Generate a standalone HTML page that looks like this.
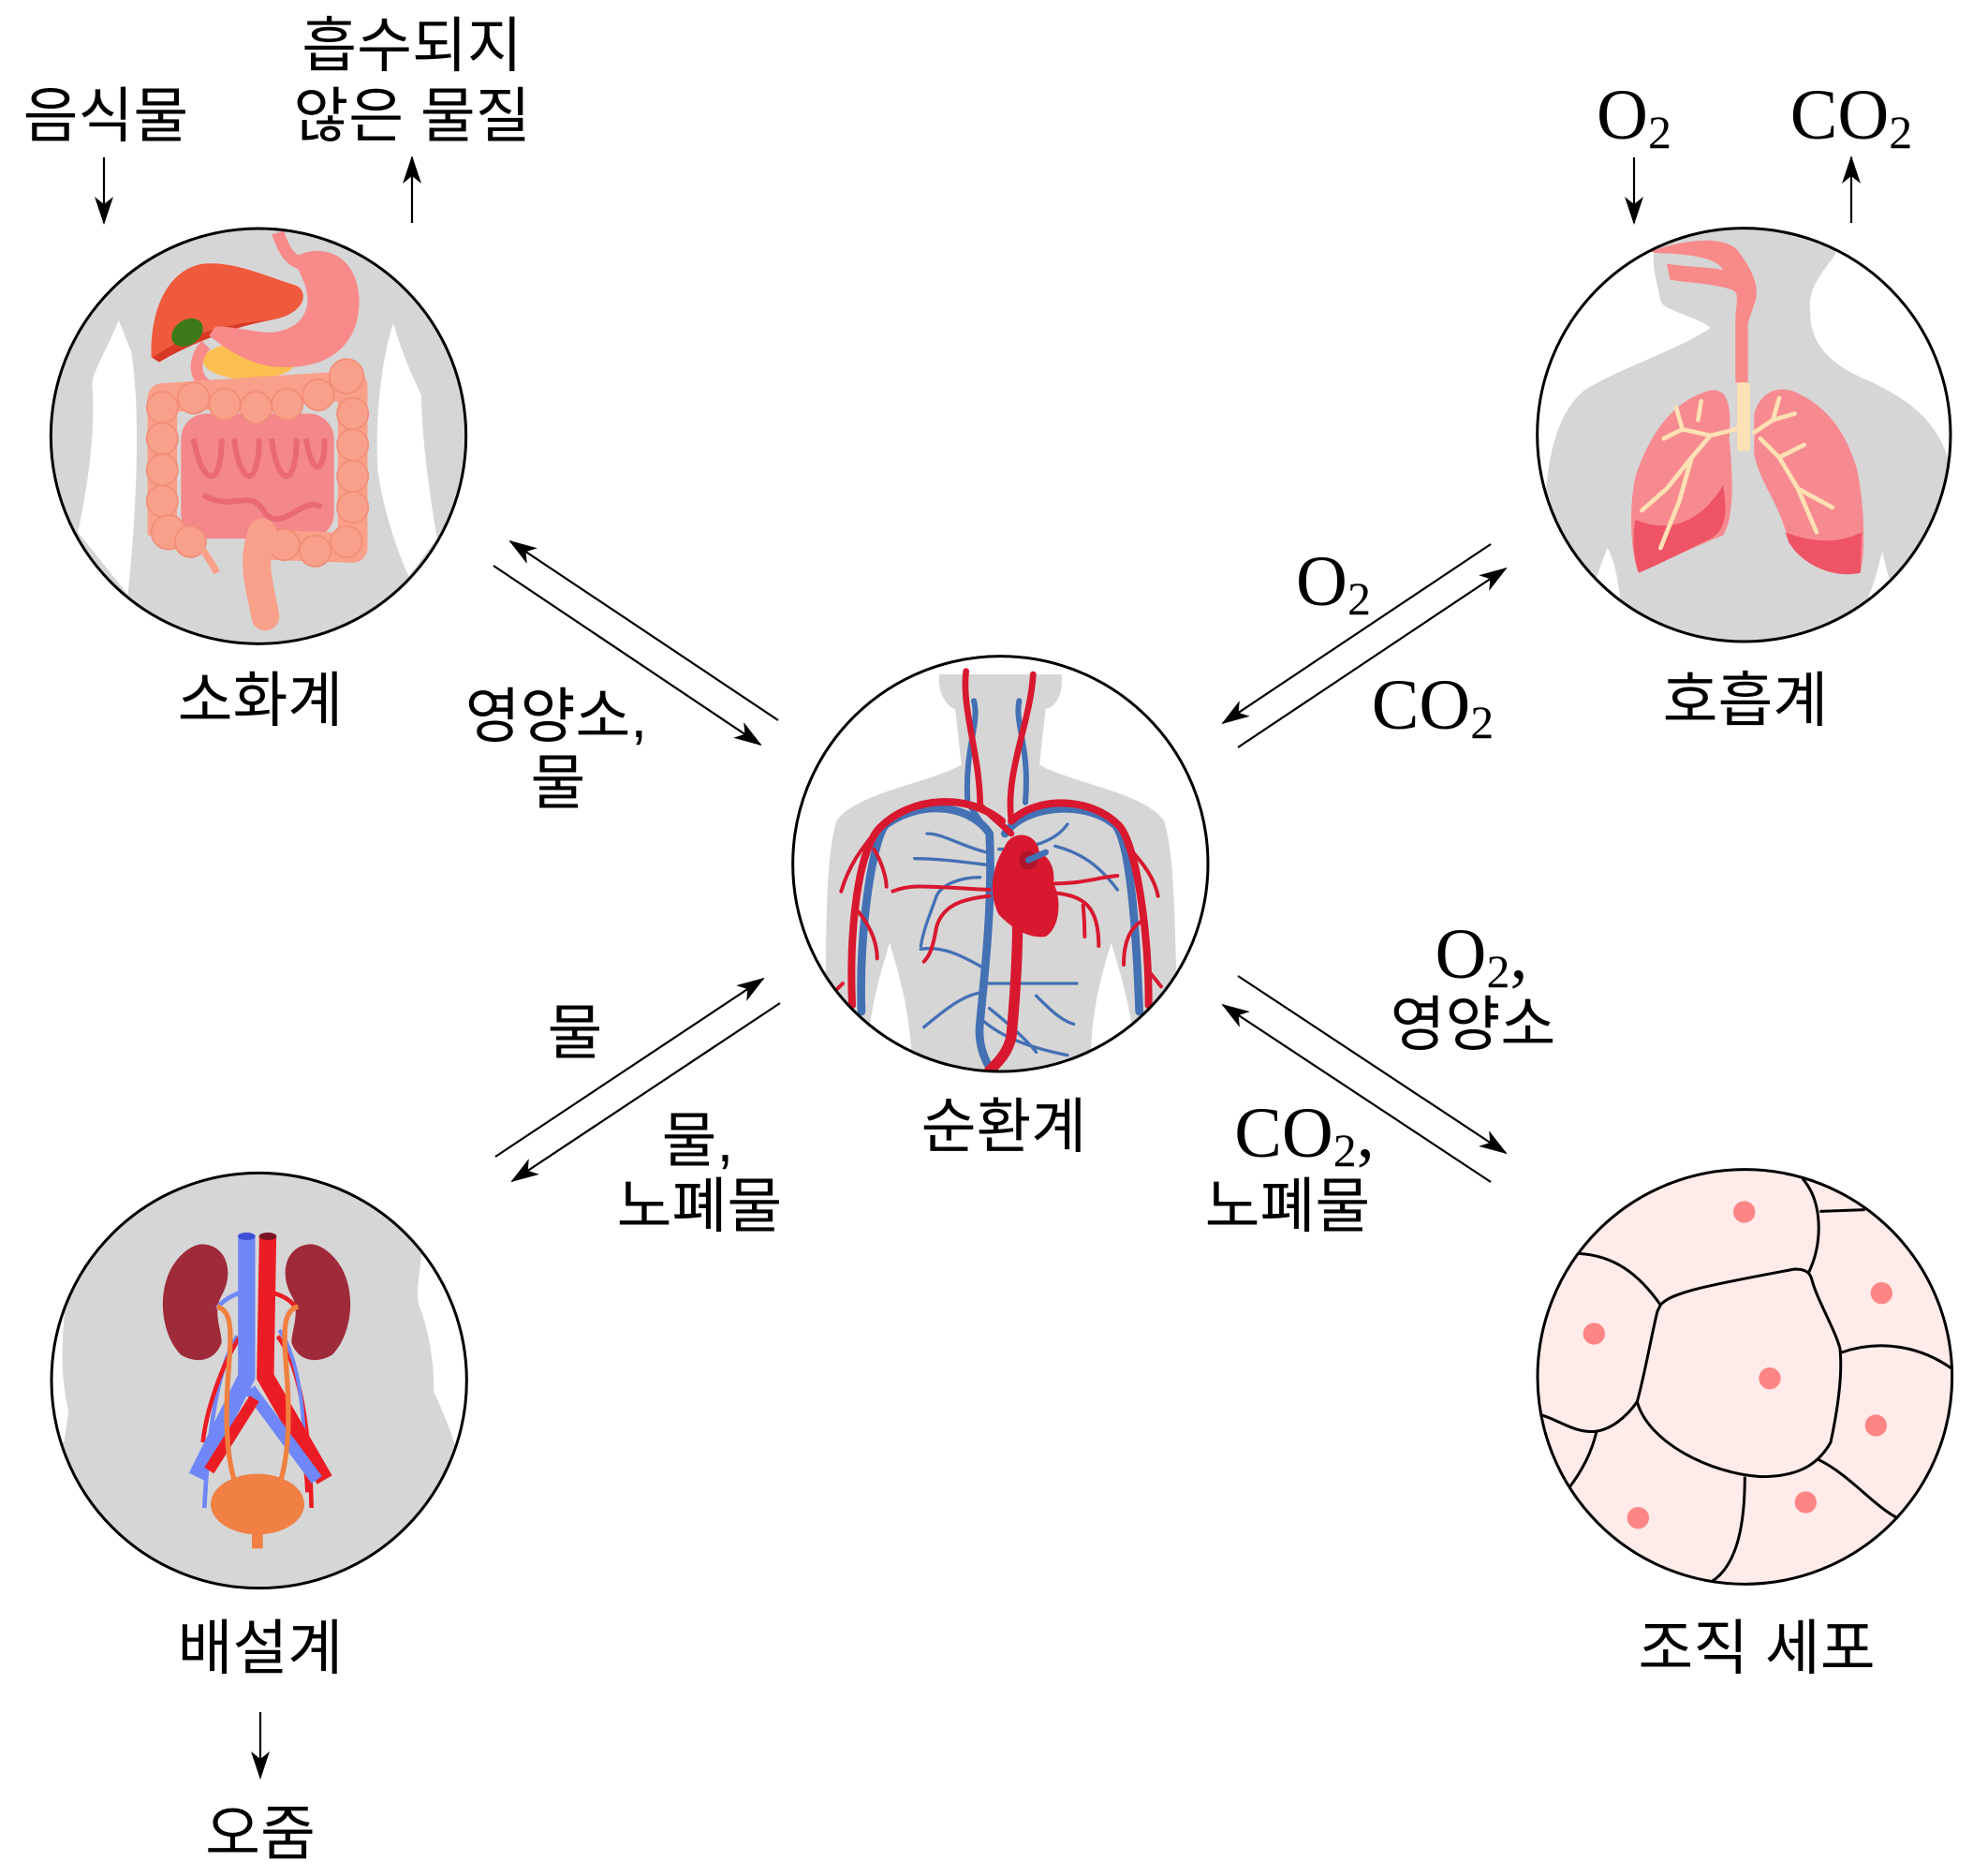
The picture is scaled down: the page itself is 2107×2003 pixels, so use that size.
<!DOCTYPE html>
<html><head><meta charset="utf-8"><style>
html,body{margin:0;padding:0;background:#fff}
svg{display:block}
.k{font-family:"Liberation Sans","Noto Sans CJK KR",sans-serif;font-size:64px;fill:#000}
.s{font-family:"Liberation Serif",serif;font-size:76px;fill:#000}
.sub{font-size:50px}
</style></head><body>
<svg width="2107" height="2003" viewBox="0 0 2107 2003" xmlns="http://www.w3.org/2000/svg">
<defs>
<marker id="ah" viewBox="0 0 30 20" refX="28" refY="10" markerWidth="30" markerHeight="20" markerUnits="userSpaceOnUse" orient="auto">
<path d="M0,0 L30,10 L0,20 L8,10 Z" fill="#000"/>
</marker>
<clipPath id="c1"><circle cx="678" cy="692" r="665"/></clipPath>
<clipPath id="c2"><circle cx="667" cy="688" r="660"/></clipPath>
<clipPath id="c3"><circle cx="685" cy="697" r="665"/></clipPath>
<clipPath id="c4"><circle cx="680" cy="702" r="663"/></clipPath>
<clipPath id="c5"><circle cx="670" cy="690" r="662"/></clipPath>
</defs>

<!-- Digestive -->
<g transform="translate(50,235) scale(0.33333)">
<g clip-path="url(#c1)">
<rect x="0" y="0" width="1400" height="1400" fill="#d6d6d6"/>
<path d="M230,320 C200,400 150,480 145,520 C160,700 120,900 100,1000 L260,1200 C290,900 300,600 270,420 Z" fill="#fff"/>
<path d="M1110,330 C1080,420 1050,600 1060,800 C1080,950 1140,1100 1160,1140 L1250,1020 C1230,900 1200,700 1200,560 C1160,480 1130,400 1110,330 Z" fill="#fff"/>
<path d="M335,440 C330,300 380,160 500,140 C600,130 700,180 800,210 C840,230 830,300 720,320 C600,340 450,400 360,455 Z" fill="#f05a3c"/>
<path d="M340,440 C420,380 560,330 720,320 C600,340 450,400 360,455 Z" fill="#d83826"/>
<ellipse cx="450" cy="360" rx="55" ry="40" transform="rotate(-35 450 360)" fill="#3f7a1a"/>
<ellipse cx="650" cy="450" rx="150" ry="60" fill="#fbbf50"/>
<path d="M790,120 C900,60 1010,130 1000,280 C990,420 880,480 740,470 C640,465 560,400 520,370 L540,340 C600,340 660,360 720,360 C820,350 860,280 820,190 Z" fill="#f88a8a"/>
<path d="M740,40 C760,100 780,130 820,140" stroke="#f88a8a" stroke-width="40" fill="none"/>
<path d="M510,400 C460,450 470,540 560,540 C650,520 760,500 790,560" stroke="#f88a8a" stroke-width="38" fill="none"/>
<rect x="430" y="620" width="490" height="400" rx="80" fill="#f4878a"/>
<path d="M470,700 C500,860 560,860 560,700 M600,700 C620,860 680,860 680,700 M720,700 C740,860 800,860 800,700 M830,700 C850,820 890,820 890,700 M500,880 C600,940 650,850 700,940 C760,1000 820,880 880,920" stroke="#e96a72" stroke-width="18" fill="none"/>
<path d="M370,1010 L370,570 L980,530 L980,1050 L700,1040" stroke="#f9a08a" stroke-width="95" fill="none" stroke-linejoin="round"/>
<g fill="#f9a08a" stroke="#f28c78" stroke-width="5">
<circle cx="370" cy="600" r="50"/><circle cx="370" cy="700" r="50"/><circle cx="370" cy="800" r="50"/><circle cx="370" cy="900" r="50"/><circle cx="390" cy="1000" r="55"/><circle cx="460" cy="1030" r="50"/>
<circle cx="470" cy="570" r="50"/><circle cx="570" cy="590" r="50"/><circle cx="670" cy="600" r="50"/><circle cx="770" cy="590" r="50"/><circle cx="870" cy="560" r="50"/><circle cx="960" cy="500" r="55"/>
<circle cx="980" cy="620" r="50"/><circle cx="980" cy="720" r="50"/><circle cx="980" cy="820" r="50"/><circle cx="980" cy="920" r="50"/><circle cx="960" cy="1030" r="50"/><circle cx="860" cy="1060" r="50"/><circle cx="760" cy="1040" r="50"/>
</g>
<path d="M690,1000 C650,1100 690,1200 700,1270" stroke="#f9a08a" stroke-width="90" fill="none" stroke-linecap="round"/>
<path d="M480,1030 C510,1070 530,1100 545,1130" stroke="#f9a08a" stroke-width="22" fill="none"/>
</g>
<circle cx="678" cy="692" r="665" fill="none" stroke="#000" stroke-width="9"/>
</g>

<!-- Respiratory -->
<g transform="translate(1640,235) scale(0.33333)">
<g clip-path="url(#c2)">
<rect x="0" y="0" width="1400" height="1400" fill="#fff"/>
<path d="M380,100 C370,150 390,200 400,260 C410,290 520,310 560,345 C450,420 250,480 150,550 C70,620 40,750 30,900 L30,1400 L1330,1400 L1330,800 C1300,650 1200,580 1080,520 C950,470 880,400 880,300 C870,220 910,180 960,110 L960,0 L380,0 Z" fill="#d6d6d6"/>
<path d="M230,1050 C210,1100 190,1150 180,1200 L280,1300 C270,1200 260,1100 230,1050 Z" fill="#fff"/>
<path d="M1110,1060 C1090,1150 1070,1200 1050,1250 L1150,1200 C1130,1150 1120,1100 1110,1060 Z" fill="#fff"/>
<path d="M370,100 C450,70 600,40 650,100 C700,170 720,220 700,270 L680,330 L680,520 L640,520 L640,320 C640,260 660,230 620,220 C550,200 470,200 430,190 L420,140 C480,150 560,150 600,160 C580,120 500,110 380,105 Z" fill="#f88a8a"/>
<rect x="645" y="520" width="42" height="220" rx="10" fill="#fde1b4"/>
<path d="M320,820 C360,700 430,580 560,545 C610,540 630,580 620,700 C630,800 640,950 600,1010 C500,1050 420,1090 330,1130 C300,1060 300,900 320,820 Z" fill="#f78a90"/>
<path d="M320,960 C420,1000 520,980 600,850 C620,950 600,1000 560,1020 C480,1060 400,1100 330,1130 C310,1070 310,1000 320,960 Z" fill="#ee5466"/>
<path d="M700,620 C720,550 780,520 850,560 C950,610 1000,700 1030,800 C1050,900 1060,1050 1040,1130 C950,1150 850,1100 810,1030 C780,900 720,850 700,750 Z" fill="#f78a90"/>
<path d="M800,1000 C880,1030 960,1040 1045,1000 L1040,1130 C950,1150 850,1100 810,1030 Z" fill="#ee5466"/>
<path d="M640,670 L560,690 L470,670 L410,700 M560,690 L500,760 L420,860 L340,930 M500,760 L460,900 L400,1050 M520,640 L530,580 M470,670 L450,600 M700,680 L760,640 L780,570 M760,640 L830,620 M720,700 L780,760 L840,860 L900,1000 M840,860 L950,920 M780,760 L860,720" stroke="#fde1b4" stroke-width="14" fill="none" stroke-linecap="round"/>
</g>
<circle cx="667" cy="688" r="662" fill="none" stroke="#000" stroke-width="9"/>
</g>

<!-- Circulatory -->
<g transform="translate(840,690) scale(0.33333)">
<g clip-path="url(#c3)">
<rect x="0" y="0" width="1400" height="1400" fill="#fff"/>
<path d="M490,90 C480,150 520,200 540,200 L560,380 C450,440 220,470 160,560 C120,700 130,900 120,1400 L1260,1400 C1240,900 1250,700 1210,560 C1150,470 920,440 810,380 L830,200 C860,200 890,150 880,90 Z" fill="#d6d6d6"/>
<path d="M330,950 C300,1050 270,1150 265,1250 L400,1300 C390,1150 360,1050 330,950 Z" fill="#fff"/>
<path d="M1040,950 C1010,1050 980,1150 975,1300 L1110,1250 C1100,1150 1070,1050 1040,950 Z" fill="#fff"/>
<g stroke="#4470b4" fill="none" stroke-linecap="round">
<path d="M600,175 C620,250 570,320 580,500 L620,560" stroke-width="18"/>
<path d="M745,175 C730,250 780,320 765,500" stroke-width="18"/>
<path d="M240,1170 C230,900 280,600 320,570 C450,480 600,520 650,600 C660,800 640,1000 620,1200 C610,1280 640,1330 650,1350" stroke-width="26"/>
<path d="M1130,1170 C1120,900 1100,620 1050,570 C950,490 760,510 700,600" stroke-width="26"/>
<path d="M640,660 C560,640 500,600 450,600 M640,700 C560,690 480,680 410,680 M620,740 C560,740 500,760 480,800 C460,860 440,900 430,960 M630,1030 C560,990 500,960 430,970 M620,1110 C560,1120 500,1170 440,1220 M640,1080 C740,1080 850,1080 930,1080 M650,1160 C700,1200 760,1250 800,1300 M680,650 C750,650 850,640 900,570 M860,640 C940,660 1000,700 1060,780 M800,1120 C840,1160 880,1200 920,1210 M630,1200 C700,1260 800,1290 900,1310" stroke-width="10"/>
</g>
<g stroke="#d8182f" fill="none" stroke-linecap="round">
<path d="M575,80 C560,200 620,350 620,510 L720,600" stroke-width="20"/>
<path d="M790,90 C780,250 700,400 720,560" stroke-width="20"/>
<path d="M210,1150 C200,900 230,650 300,580 C400,480 580,470 690,560" stroke-width="24"/>
<path d="M1160,1150 C1160,900 1120,650 1070,580 C980,480 800,480 720,560" stroke-width="24"/>
<path d="M740,880 C740,1000 730,1150 720,1250 C710,1300 680,1330 650,1360" stroke-width="34"/>
<path d="M340,785 C400,760 450,770 650,780 M650,800 C560,810 500,830 480,900 C470,960 460,990 440,1010 M860,790 C950,800 1000,830 1000,960 M860,760 C950,760 1000,740 1060,735 M950,830 C955,880 955,920 955,930 M280,600 C240,650 200,700 175,785 M280,650 C310,700 320,750 320,770 M230,850 C270,900 290,950 290,1000 M1090,640 C1150,700 1180,750 1190,800 M1140,880 C1100,900 1080,950 1080,1020 M180,1080 L150,1110 M1160,1040 L1200,1090" stroke-width="12"/>
</g>
<path d="M700,640 C720,590 800,590 810,660 C850,680 860,720 855,760 C880,800 880,900 830,930 C760,940 700,880 680,860 C650,800 650,720 700,640 Z" fill="#d8182f"/>
<circle cx="775" cy="685" r="30" fill="#b0142b"/>
<path d="M775,685 L830,660" stroke="#4470b4" stroke-width="20" stroke-linecap="round"/>
</g>
<circle cx="685" cy="697" r="665" fill="none" stroke="#000" stroke-width="9"/>
</g>

<!-- Excretory -->
<g transform="translate(50,1240) scale(0.33333)">
<g clip-path="url(#c4)">
<rect x="0" y="0" width="1400" height="1400" fill="#d6d6d6"/>
<path d="M1200,300 C1190,400 1180,440 1200,480 C1240,600 1240,700 1240,740 C1270,800 1300,880 1310,920 L1400,900 L1400,300 Z" fill="#fff"/>
<path d="M0,400 L60,450 C45,600 45,700 70,800 L55,900 L0,900 Z" fill="#fff"/>
<path d="M500,265 C580,270 600,360 560,430 C530,480 560,540 560,580 C540,640 480,650 430,620 C370,560 350,430 400,340 C430,290 470,265 500,265 Z" fill="#9e2a3a"/>
<path d="M500,265 C580,270 600,360 560,430 C530,480 560,540 560,580 C540,640 480,650 430,620 C370,560 350,430 400,340 C430,290 470,265 500,265 Z" fill="#9e2a3a" transform="translate(1344,0) scale(-1,1)"/>
<g fill="none" stroke-linecap="butt">
<path d="M620,420 C590,430 560,450 545,470 M610,560 C560,640 520,800 505,1110" stroke="#6f87f8" stroke-width="14"/>
<path d="M720,420 C760,430 790,450 800,475 M740,560 C800,640 840,800 848,1110 M620,560 C560,650 510,800 500,900 M700,690 C790,800 830,900 835,1060" stroke="#ec1c24" stroke-width="14"/>
<path d="M745,540 C800,620 820,760 825,900" stroke="#6f87f8" stroke-width="12"/>
<path d="M708,240 L700,690 L890,1020" stroke="#ec1c24" stroke-width="55"/>
<path d="M640,240 L640,690 L480,1010" stroke="#6f87f8" stroke-width="55"/>
<path d="M650,730 L865,1020" stroke="#6f87f8" stroke-width="40"/>
<path d="M665,760 L520,990" stroke="#ec1c24" stroke-width="36"/>
<path d="M545,465 C600,480 590,560 580,700 C570,850 580,950 600,1020" stroke="#f08040" stroke-width="16"/>
<path d="M805,465 C750,480 760,560 770,700 C780,850 770,950 750,1020" stroke="#f08040" stroke-width="16"/>
</g>
<ellipse cx="640" cy="240" rx="28" ry="12" fill="#3c4fd8"/>
<ellipse cx="708" cy="240" rx="28" ry="12" fill="#7a1424"/>
<ellipse cx="675" cy="1098" rx="150" ry="97" fill="#f08044"/>
<rect x="657" y="1180" width="35" height="60" fill="#f08044"/>
</g>
<circle cx="680" cy="702" r="665" fill="none" stroke="#000" stroke-width="9"/>
</g>

<!-- Tissue -->
<g transform="translate(1640,1240) scale(0.33333)">
<circle cx="670" cy="690" r="664" fill="#ffebea"/>
<g clip-path="url(#c5)" fill="none" stroke="#000" stroke-width="9">
<path d="M400,460 C430,420 560,395 830,345 C870,345 880,360 885,380 C900,440 960,540 975,600 C985,700 960,830 945,900 C900,980 830,1010 720,1010 C560,1000 360,900 325,770 C350,680 370,560 390,480 Z"/>
<path d="M135,295 C250,300 330,360 400,460"/>
<path d="M855,55 C920,130 920,260 875,355"/>
<path d="M910,160 L1055,155"/>
<path d="M980,612 C1100,570 1230,590 1335,665"/>
<path d="M905,955 C1000,1000 1080,1100 1155,1140"/>
<path d="M670,1010 C670,1150 650,1290 565,1345"/>
<path d="M325,770 C290,820 240,860 190,865 C120,870 70,825 10,810"/>
<path d="M195,865 C180,930 150,990 105,1048"/>
</g>
<g fill="#fe8585">
<circle cx="668" cy="162" r="35"/><circle cx="1108" cy="422" r="35"/><circle cx="187" cy="552" r="35"/><circle cx="750" cy="695" r="35"/><circle cx="1090" cy="846" r="35"/><circle cx="865" cy="1092" r="35"/><circle cx="328" cy="1142" r="35"/>
</g>
<circle cx="670" cy="690" r="664" fill="none" stroke="#000" stroke-width="9"/>
</g>

<!-- Arrows -->
<g stroke="#000" stroke-width="2.2" fill="none">
<line x1="111" y1="168" x2="111" y2="238" marker-end="url(#ah)"/>
<line x1="440" y1="238" x2="440" y2="168" marker-end="url(#ah)"/>
<line x1="1745" y1="168" x2="1745" y2="238" marker-end="url(#ah)"/>
<line x1="1977" y1="238" x2="1977" y2="168" marker-end="url(#ah)"/>
<line x1="278" y1="1828" x2="278" y2="1898" marker-end="url(#ah)"/>
<line x1="831" y1="769" x2="545" y2="578" marker-end="url(#ah)"/>
<line x1="527" y1="604" x2="812" y2="795" marker-end="url(#ah)"/>
<line x1="1592" y1="581" x2="1306" y2="772" marker-end="url(#ah)"/>
<line x1="1322" y1="798" x2="1608" y2="607" marker-end="url(#ah)"/>
<line x1="529" y1="1235" x2="815" y2="1045" marker-end="url(#ah)"/>
<line x1="833" y1="1071" x2="547" y2="1261" marker-end="url(#ah)"/>
<line x1="1322" y1="1042" x2="1608" y2="1231" marker-end="url(#ah)"/>
<line x1="1592" y1="1262" x2="1306" y2="1073" marker-end="url(#ah)"/>
</g>

<!-- Labels -->
<g class="k" text-anchor="middle" dominant-baseline="central">
<text x="113" y="124">음식물</text>
<text x="440" y="49">흡수되지</text>
<text x="440" y="124">않은 물질</text>
<text x="278" y="748">소화계</text>
<text x="1864" y="748">호흡계</text>
<text x="594" y="765">영양소,</text>
<text x="596" y="836">물</text>
<text x="1072" y="1203">순환계</text>
<text x="614" y="1103">물</text>
<text x="745" y="1218">물,</text>
<text x="747" y="1288">노폐물</text>
<text x="1573" y="1094">영양소</text>
<text x="1375" y="1288">노폐물</text>
<text x="278" y="1760">배설계</text>
<text x="278" y="1958">오줌</text>
<text x="1876" y="1760">조직 세포</text>
</g>
<g class="s" text-anchor="middle">
<text x="1745" y="148">O<tspan class="sub" dy="10">2</tspan></text>
<text x="1977" y="148">CO<tspan class="sub" dy="10">2</tspan></text>
<text x="1424" y="646">O<tspan class="sub" dy="10">2</tspan></text>
<text x="1530" y="778">CO<tspan class="sub" dy="10">2</tspan></text>
<text x="1582" y="1044">O<tspan class="sub" dy="10">2</tspan><tspan dy="-10">,</tspan></text>
<text x="1393" y="1235">CO<tspan class="sub" dy="10">2</tspan><tspan dy="-10">,</tspan></text>
</g>
</svg>
</body></html>
